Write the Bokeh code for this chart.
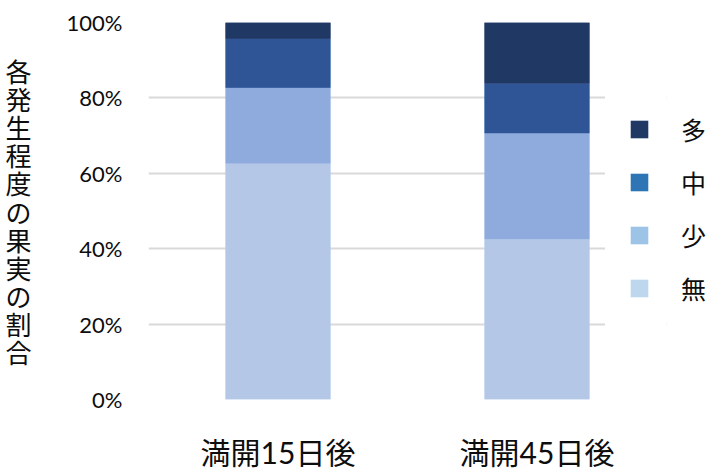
from bokeh.plotting import figure
from bokeh.models import (Legend, LegendItem, Range1d, FixedTicker, CustomJSTickFormatter,
                          NumeralTickFormatter, BoxAnnotation, ColumnDataSource)
from bokeh.embed import file_html
from bokeh.resources import INLINE

categories = ["満開15日後", "満開45日後"]
levels = ["無", "少", "中", "多"]          # stacked bottom to top
none_vals = [0.626, 0.425]
few_vals = [0.201, 0.281]
mid_vals = [0.130, 0.132]
many_vals = [0.043, 0.162]
y_ticks = [0, 0.2, 0.4, 0.6, 0.8, 1.0]
y_title = "各発生程度の果実の割合"

bar_colors = ["#b4c7e7", "#8faadc", "#2f5597", "#203864"]
legend_colors = ["#bdd7ee", "#9dc3e6", "#2e75b6", "#1f3864"]

CJK = "Noto Sans CJK JP"
LAT = "Lato, 'Noto Sans CJK JP'"
TXT = "#0d0d0d"

n = len(categories)
bar_w = 0.405
x_pos = [i + 0.5 for i in range(n)]
source = ColumnDataSource(dict(x=x_pos, 無=none_vals, 少=few_vals, 中=mid_vals, 多=many_vals))

W, H = 726, 473
LEFT, TOP, BOTTOM = 148, 22, 74
unit_px = 259.0
p = figure(x_range=Range1d(0, (W - LEFT) / unit_px), y_range=Range1d(0, 1),
           width=W, height=H, output_backend="svg", toolbar_location=None,
           min_border_left=LEFT, min_border_right=0, min_border_top=TOP, min_border_bottom=BOTTOM)
p.outline_line_color = None

# legend-coloured stacks (used only for the legend swatches), fully covered by the real bars
legend_rs = p.vbar_stack(levels, x="x", width=bar_w, color=legend_colors, line_color=None, source=source)
p.vbar_stack(levels, x="x", width=bar_w, color=bar_colors, line_color=None, source=source)

# grid lines stop at the end of the category area; the legend box hides the inner ones
p.add_layout(BoxAnnotation(left=n, fill_color="white", fill_alpha=1.0, line_color=None, level="glyph"))
p.add_layout(BoxAnnotation(left=x_pos[-1] + bar_w / 2 + 0.06, right=n, bottom=0.19, top=0.805,
                           fill_color="white", fill_alpha=1.0, line_color=None, level="glyph"))

items = [LegendItem(label=lev, renderers=[r]) for lev, r in zip(levels, legend_rs)][::-1]
legend = Legend(items=items, location=(480, 93), glyph_width=22, glyph_height=22,
                label_standoff=31, spacing=17, padding=25, margin=0,
                label_text_font=CJK, label_text_font_size="25px", label_text_color=TXT,
                label_height=22, border_line_color=None, background_fill_color="white",
                background_fill_alpha=1.0)
p.add_layout(legend, "center")

p.xgrid.grid_line_color = None
p.ygrid.grid_line_color = "#d9d9d9"
p.ygrid.grid_line_width = 2

p.yaxis.ticker = y_ticks
p.yaxis.formatter = NumeralTickFormatter(format="0%")
p.yaxis.axis_line_color = None
p.yaxis.major_tick_line_color = None
p.yaxis.minor_tick_line_color = None
p.yaxis.major_label_text_font = "Lato"
p.yaxis.major_label_text_font_size = "22px"
p.yaxis.major_label_text_color = TXT
p.yaxis.major_label_standoff = 20
p.yaxis.axis_label = "\n".join(y_title)
p.yaxis.axis_label_orientation = "horizontal"
p.yaxis.axis_label_text_font = CJK
p.yaxis.axis_label_text_font_size = "26px"
p.yaxis.axis_label_text_font_style = "normal"
p.yaxis.axis_label_text_line_height = 0.76
p.yaxis.axis_label_text_color = TXT
p.yaxis.axis_label_standoff = 32

p.xaxis.ticker = FixedTicker(ticks=x_pos)
p.xaxis.formatter = CustomJSTickFormatter(args=dict(labels=categories),
                                          code="return labels[Math.round(tick - 0.5)];")
p.xaxis.axis_line_color = None
p.xaxis.major_tick_line_color = None
p.xaxis.minor_tick_line_color = None
p.xaxis.major_label_text_font = LAT
p.xaxis.major_label_text_font_size = "30px"
p.xaxis.major_label_text_color = TXT
p.xaxis.major_label_standoff = 28

open("out.html", "w").write(file_html(p, INLINE))
